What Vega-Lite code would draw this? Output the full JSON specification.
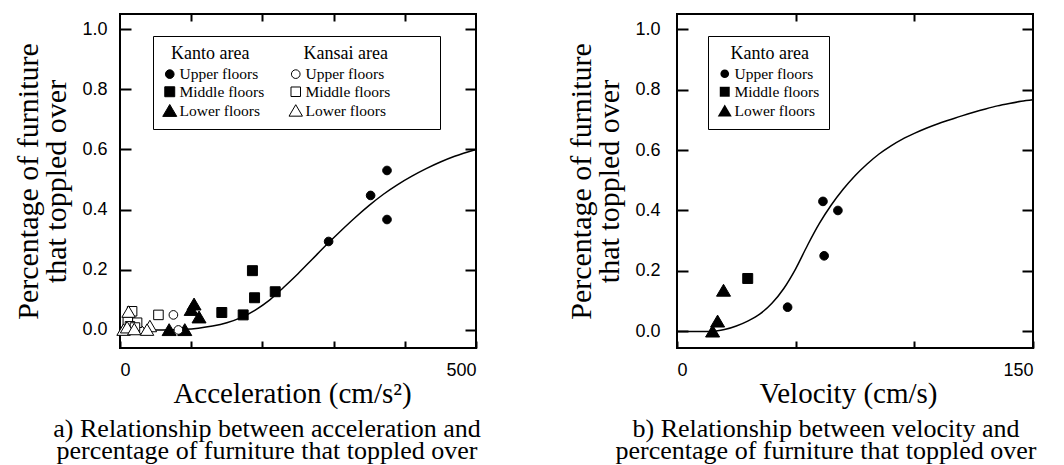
{
 "$schema": "https://vega.github.io/schema/vega-lite/v6.json",
 "padding": {"left": 12, "top": 12, "right": 5, "bottom": 0},
 "background": "white",
 "spacing": 83,
 "resolve": {"scale": {"shape": "independent", "fill": "independent", "stroke": "independent"}, "legend": {"shape": "independent", "fill": "independent", "stroke": "independent"}},
 "config": {
   "view": {"stroke": "black", "strokeWidth": 2},
   "axis": {"grid": false, "domain": false, "tickColor": "black", "tickWidth": 2, "labelFont": "Liberation Sans", "labelFontSize": 18, "labelColor": "black", "titleFont": "Liberation Serif", "titleFontWeight": "normal", "titleColor": "black", "titleFontSize": 28},
   "legend": {"labelFont": "Liberation Serif", "labelFontSize": 15.5, "labelColor": "black", "symbolSize": 75, "strokeColor": "black", "fillColor": "white", "padding": 9, "rowPadding": 1, "columnPadding": 22, "labelOffset": 2, "symbolStrokeColor": "black", "symbolStrokeWidth": 1, "titleFont": "Liberation Serif", "titleFontSize": 18, "titleFontWeight": "normal", "titleColor": "black", "titlePadding": 3, "titleAnchor": "start", "titleLimit": 400},
   "title": {"font": "Liberation Serif", "fontSize": 26, "fontWeight": "normal", "color": "black"}
 },
 "datasets": {
   "accCurve": [
     {"x": 0, "y": 0}, {"x": 60, "y": 0}, {"x": 90, "y": 0.002}, {"x": 110, "y": 0.006}, {"x": 130, "y": 0.013}, {"x": 150, "y": 0.024}, {"x": 170, "y": 0.041}, {"x": 190, "y": 0.066}, {"x": 210, "y": 0.099}, {"x": 230, "y": 0.142}, {"x": 250, "y": 0.187}, {"x": 270, "y": 0.235}, {"x": 290, "y": 0.283}, {"x": 310, "y": 0.329}, {"x": 330, "y": 0.373}, {"x": 350, "y": 0.414}, {"x": 370, "y": 0.451}, {"x": 390, "y": 0.483}, {"x": 410, "y": 0.511}, {"x": 430, "y": 0.536}, {"x": 450, "y": 0.558}, {"x": 470, "y": 0.577}, {"x": 500, "y": 0.6}
   ],
   "accPts": [
     {"x": 375, "y": 0.53, "s": "KU"}, {"x": 352, "y": 0.447, "s": "KU"}, {"x": 375, "y": 0.367, "s": "KU"}, {"x": 293, "y": 0.294, "s": "KU"},
     {"x": 186, "y": 0.197, "s": "KM"}, {"x": 189, "y": 0.107, "s": "KM"}, {"x": 218, "y": 0.127, "s": "KM"}, {"x": 173, "y": 0.05, "s": "KM"}, {"x": 143, "y": 0.058, "s": "KM"},
     {"x": 104, "y": 0.085, "s": "KL"}, {"x": 100, "y": 0.067, "s": "KL"}, {"x": 111, "y": 0.042, "s": "KL"}, {"x": 69, "y": 0.0, "s": "KL"}, {"x": 91, "y": 0.0, "s": "KL"},
     {"x": 75, "y": 0.05, "s": "SU"}, {"x": 82, "y": 0.0, "s": "SU"}, {"x": 28, "y": 0.0, "s": "SU"}, {"x": 15, "y": 0.0, "s": "SU"}, {"x": 8, "y": 0.003, "s": "SU"},
     {"x": 54, "y": 0.05, "s": "SM"}, {"x": 17, "y": 0.062, "s": "SM"}, {"x": 24, "y": 0.024, "s": "SM"}, {"x": 11, "y": 0.027, "s": "SM"}, {"x": 14, "y": 0.012, "s": "SM"}, {"x": 21, "y": 0.008, "s": "SM"},
     {"x": 12, "y": 0.06, "s": "SL"}, {"x": 42, "y": 0.012, "s": "SL"}, {"x": 5, "y": 0.0, "s": "SL"}, {"x": 10, "y": 0.008, "s": "SL"}, {"x": 20, "y": 0.002, "s": "SL"}, {"x": 38, "y": 0.0, "s": "SL"}
   ],
   "velCurve": [
     {"x": 0, "y": 0}, {"x": 10, "y": 0}, {"x": 15, "y": 0.0}, {"x": 20, "y": 0.006}, {"x": 25, "y": 0.018}, {"x": 30, "y": 0.035}, {"x": 35, "y": 0.058}, {"x": 40, "y": 0.093}, {"x": 45, "y": 0.142}, {"x": 50, "y": 0.207}, {"x": 55, "y": 0.285}, {"x": 60, "y": 0.357}, {"x": 65, "y": 0.418}, {"x": 70, "y": 0.47}, {"x": 75, "y": 0.515}, {"x": 80, "y": 0.553}, {"x": 85, "y": 0.586}, {"x": 90, "y": 0.613}, {"x": 95, "y": 0.636}, {"x": 100, "y": 0.655}, {"x": 105, "y": 0.672}, {"x": 110, "y": 0.687}, {"x": 115, "y": 0.7}, {"x": 120, "y": 0.713}, {"x": 125, "y": 0.725}, {"x": 130, "y": 0.736}, {"x": 135, "y": 0.746}, {"x": 140, "y": 0.754}, {"x": 145, "y": 0.761}, {"x": 150, "y": 0.766}
   ],
   "velPts": [
     {"x": 46.6, "y": 0.08, "s": "KU"}, {"x": 61.5, "y": 0.43, "s": "KU"}, {"x": 62, "y": 0.25, "s": "KU"}, {"x": 67.8, "y": 0.4, "s": "KU"},
     {"x": 29.8, "y": 0.175, "s": "KM"},
     {"x": 15, "y": 0.0, "s": "KL"}, {"x": 17.1, "y": 0.033, "s": "KL"}, {"x": 19.6, "y": 0.135, "s": "KL"}
   ]
 },
 "hconcat": [
  {
   "width": 356, "height": 334,
   "title": {"text": ["a) Relationship between acceleration and", "percentage of furniture that toppled over"], "orient": "bottom", "anchor": "middle", "frame": "group", "dx": -31, "lineHeight": 22, "offset": 8},
   "resolve": {"axis": {"x": "independent", "y": "independent"}},
   "layer": [
    {"data": {"name": "accCurve"}, "mark": {"type": "line", "color": "black", "strokeWidth": 1.5, "interpolate": "monotone"},
     "encoding": {
       "x": {"field": "x", "type": "quantitative", "scale": {"domain": [0, 500], "nice": false, "zero": false}, "axis": {"orient": "bottom", "values": [0, 100, 200, 300, 400, 500], "tickSize": -7, "labelPadding": 20, "labelExpr": "datum.value == 0 || datum.value == 500 ? datum.label : ''", "title": "Acceleration (cm/s²)", "titlePadding": 0, "titleFontSize": 29, "titleX": 172}},
       "y": {"field": "y", "type": "quantitative", "scale": {"domain": [-0.06, 1.05], "nice": false, "zero": false}, "axis": {"orient": "left", "values": [0, 0.2, 0.4, 0.6, 0.8, 1.0], "format": ".1f", "tickSize": -11, "labelPadding": 24, "title": ["Percentage of furniture", "that toppled over"], "titlePadding": 10, "titleLineHeight": 28, "titleFontSize": 30}}
     }},
    {"data": {"name": "accPts"}, "mark": {"type": "point", "filled": true, "stroke": "black", "strokeWidth": 1, "opacity": 1, "size": 75},
     "encoding": {
       "x": {"field": "x", "type": "quantitative", "axis": {"orient": "top", "values": [100, 200, 300, 400], "tickSize": -7, "labels": false, "title": null}},
       "y": {"field": "y", "type": "quantitative", "axis": {"orient": "right", "values": [0, 0.2, 0.4, 0.6, 0.8, 1.0], "tickSize": -11, "labels": false, "title": null}},
       "shape": {"field": "s", "type": "nominal", "scale": {"domain": ["KU", "KM", "KL", "SU", "SM", "SL", "e1", "e2", "e3"], "range": ["circle", "M-1.15,-1.15L1.15,-1.15L1.15,1.15L-1.15,1.15Z", "M0,-1.45L1.62,1.3L-1.62,1.3Z", "circle", "M-1.1,-1.1L1.1,-1.1L1.1,1.1L-1.1,1.1Z", "M0,-1.4L1.55,1.25L-1.55,1.25Z", "M0,0L0,0Z", "M0,0L0,0Z", "M0,0L0,0Z"]},
         "legend": {"title": "\u200b\u00a0\u00a0Kanto area\u00a0\u00a0\u00a0\u00a0\u00a0\u00a0\u00a0\u00a0\u00a0\u00a0\u00a0\u00a0Kansai area", "orient": "none", "legendX": 33, "legendY": 22, "columns": 3, "direction": "vertical",
           "labelExpr": "substring(datum.value, 0, 1) == 'e' ? '' : substring(datum.value, 1, 2) == 'U' ? 'Upper floors' : substring(datum.value, 1, 2) == 'M' ? 'Middle floors' : 'Lower floors'"}},
       "fill": {"field": "s", "type": "nominal", "scale": {"domain": ["KU", "KM", "KL", "SU", "SM", "SL", "e1", "e2", "e3"], "range": ["black", "black", "black", "white", "white", "white", "white", "white", "white"]},
         "legend": {"title": "\u200b\u00a0\u00a0Kanto area\u00a0\u00a0\u00a0\u00a0\u00a0\u00a0\u00a0\u00a0\u00a0\u00a0\u00a0\u00a0Kansai area", "orient": "none", "legendX": 33, "legendY": 22, "columns": 3, "direction": "vertical",
           "labelExpr": "substring(datum.value, 0, 1) == 'e' ? '' : substring(datum.value, 1, 2) == 'U' ? 'Upper floors' : substring(datum.value, 1, 2) == 'M' ? 'Middle floors' : 'Lower floors'"}},
       "stroke": {"field": "s", "type": "nominal", "scale": {"domain": ["KU", "KM", "KL", "SU", "SM", "SL", "e1", "e2", "e3"], "range": ["black", "black", "black", "black", "black", "black", "black", "black", "black"]},
         "legend": {"title": "\u200b\u00a0\u00a0Kanto area\u00a0\u00a0\u00a0\u00a0\u00a0\u00a0\u00a0\u00a0\u00a0\u00a0\u00a0\u00a0Kansai area", "orient": "none", "legendX": 33, "legendY": 22, "columns": 3, "direction": "vertical",
           "labelExpr": "substring(datum.value, 0, 1) == 'e' ? '' : substring(datum.value, 1, 2) == 'U' ? 'Upper floors' : substring(datum.value, 1, 2) == 'M' ? 'Middle floors' : 'Lower floors'"}}
     }}
   ]
  },
  {
   "width": 356, "height": 334,
   "title": {"text": ["b) Relationship between velocity and", "percentage of furniture that toppled over"], "orient": "bottom", "anchor": "middle", "frame": "group", "dx": -29, "lineHeight": 22, "offset": 8},
   "resolve": {"axis": {"x": "independent", "y": "independent"}},
   "layer": [
    {"data": {"name": "velCurve"}, "mark": {"type": "line", "color": "black", "strokeWidth": 1.5, "interpolate": "monotone"},
     "encoding": {
       "x": {"field": "x", "type": "quantitative", "scale": {"domain": [0, 150], "nice": false, "zero": false}, "axis": {"orient": "bottom", "values": [0, 50, 100, 150], "tickSize": -7, "labelPadding": 20, "labelExpr": "datum.value == 0 || datum.value == 150 ? datum.label : ''", "title": "Velocity (cm/s)", "titlePadding": 0, "titleFontSize": 29, "titleX": 171}},
       "y": {"field": "y", "type": "quantitative", "scale": {"domain": [-0.055, 1.05], "nice": false, "zero": false}, "axis": {"orient": "left", "values": [0, 0.2, 0.4, 0.6, 0.8, 1.0], "format": ".1f", "tickSize": -11, "labelPadding": 28, "title": ["Percentage of furniture", "that toppled over"], "titlePadding": 10, "titleLineHeight": 28, "titleFontSize": 30}}
     }},
    {"data": {"name": "velPts"}, "mark": {"type": "point", "filled": true, "stroke": "black", "strokeWidth": 1, "opacity": 1, "size": 75},
     "encoding": {
       "x": {"field": "x", "type": "quantitative", "axis": {"orient": "top", "values": [50, 100], "tickSize": -7, "labels": false, "title": null}},
       "y": {"field": "y", "type": "quantitative", "axis": {"orient": "right", "values": [0, 0.2, 0.4, 0.6, 0.8, 1.0], "tickSize": -11, "labels": false, "title": null}},
       "shape": {"field": "s", "type": "nominal", "scale": {"domain": ["KU", "KM", "KL"], "range": ["circle", "M-1.15,-1.15L1.15,-1.15L1.15,1.15L-1.15,1.15Z", "M0,-1.45L1.62,1.3L-1.62,1.3Z"]},
         "legend": {"title": "\u200b\u00a0\u00a0\u00a0Kanto area", "orient": "none", "legendX": 31, "legendY": 22, "direction": "vertical",
           "labelExpr": "substring(datum.value, 1, 2) == 'U' ? 'Upper floors' : substring(datum.value, 1, 2) == 'M' ? 'Middle floors' : 'Lower floors'"}},
       "fill": {"field": "s", "type": "nominal", "scale": {"domain": ["KU", "KM", "KL"], "range": ["black", "black", "black"]},
         "legend": {"title": "\u200b\u00a0\u00a0\u00a0Kanto area", "orient": "none", "legendX": 31, "legendY": 22, "direction": "vertical",
           "labelExpr": "substring(datum.value, 1, 2) == 'U' ? 'Upper floors' : substring(datum.value, 1, 2) == 'M' ? 'Middle floors' : 'Lower floors'"}}
     }}
   ]
  }
 ]
}
